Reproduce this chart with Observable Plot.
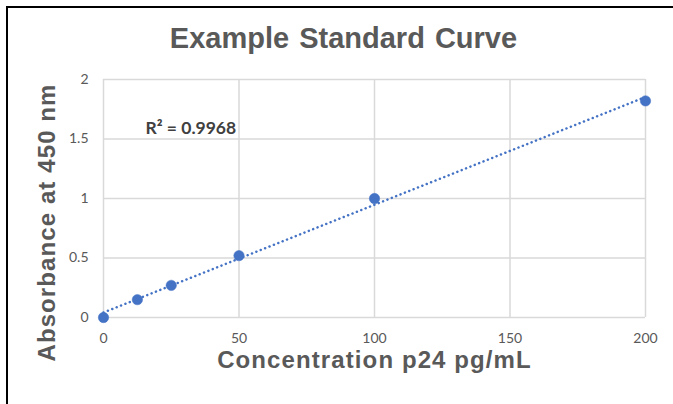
<!DOCTYPE html>
<html>
<head>
<meta charset="utf-8">
<script src="https://cdn.jsdelivr.net/npm/d3@7"></script>
<script src="https://cdn.jsdelivr.net/npm/@observablehq/plot@0.6"></script>
<style>
  html, body { margin: 0; padding: 0; background: #fff; }
  #wrap { position: relative; width: 673px; height: 404px; overflow: hidden; background: #fff; }
  .bt { position: absolute; left: 6px; top: 6px; width: 667px; height: 2px; background: #000; }
  .bl { position: absolute; left: 6px; top: 6px; width: 2px; height: 398px; background: #000; }
  #title { position: relative; height: 62px; box-sizing: border-box; padding-left: 14px; padding-top: 22px;
           text-align: center; font-family: "Liberation Sans", Arial, sans-serif; font-weight: bold;
           font-size: 29px; line-height: 32px; color: #595959; word-spacing: 2px; }
  #chart svg { display: block; }
</style>
</head>
<body>
<div id="wrap">
  <div class="bt"></div>
  <div class="bl"></div>
  <div id="title">Example Standard Curve</div>
  <div id="chart"></div>
</div>
<script>
const concentration = [0, 12.5, 25, 50, 100, 200];
const absorbance = [0, 0.15, 0.27, 0.52, 1.0, 1.82];
const xTicks = [0, 50, 100, 150, 200];
const yTicks = [0, 0.5, 1, 1.5, 2];
const titleText = "Example Standard Curve";
const xLabel = "Concentration p24 pg/mL";
const yLabel = "Absorbance at 450 nm";
const r2Label = "R² = 0.9968";

const data = concentration.map((c, i) => ({conc: c, abs: absorbance[i]}));
const blue = "#4472C4";
const grid = "#d9d9d9";
const tickFont = "Lato, 'Open Sans', sans-serif";
const labelFont = "'Liberation Sans', Arial, sans-serif";

const chart = Plot.plot({
  width: 673,
  height: 342,
  marginLeft: 103,
  marginRight: 28,
  marginTop: 17,
  marginBottom: 87,
  style: {background: "transparent", overflow: "visible"},
  x: {domain: [0, 200]},
  y: {domain: [0, 2]},
  marks: [
    Plot.gridX(xTicks, {stroke: grid, strokeOpacity: 1, strokeWidth: 1.5}),
    Plot.gridY(yTicks, {stroke: grid, strokeOpacity: 1, strokeWidth: 1.5}),
    Plot.axisX({ticks: xTicks, tickSize: 0, tickPadding: 16, label: null, fontSize: 14,
                tickFormat: d => String(d), fill: "#595959", fontFamily: tickFont}),
    Plot.axisY({ticks: yTicks, tickSize: 0, tickPadding: 15, label: null, fontSize: 14,
                tickFormat: d => String(d), fill: "#595959", fontFamily: tickFont}),
    Plot.linearRegressionY(data, {x: "conc", y: "abs", ci: 0, stroke: blue, strokeWidth: 2.5,
                strokeDasharray: "0.1 4.6", strokeLinecap: "round"}),
    Plot.dot(data, {x: "conc", y: "abs", r: 5.2, fill: blue, stroke: blue, strokeWidth: 0.5}),
    Plot.text([r2Label], {frameAnchor: "top-left", dx: 42, dy: 42, textAnchor: "start",
                fontSize: 17.5, fontWeight: "bold", fill: "#404040", fontFamily: tickFont}),
    Plot.text([xLabel], {frameAnchor: "bottom", dy: 50, fontSize: 24, fontWeight: "bold",
                fill: "#595959", fontFamily: labelFont}),
    Plot.text([yLabel], {frameAnchor: "left", dx: -56, dy: 24, rotate: -90, textAnchor: "middle",
                fontSize: 24, fontWeight: "bold", fill: "#595959", fontFamily: labelFont})
  ]
});
d3.select(chart).selectAll("text")
  .filter(function() { return this.textContent === xLabel || this.textContent === yLabel; })
  .attr("letter-spacing", "1.1px");
document.getElementById("chart").appendChild(chart);
</script>
</body>
</html>
